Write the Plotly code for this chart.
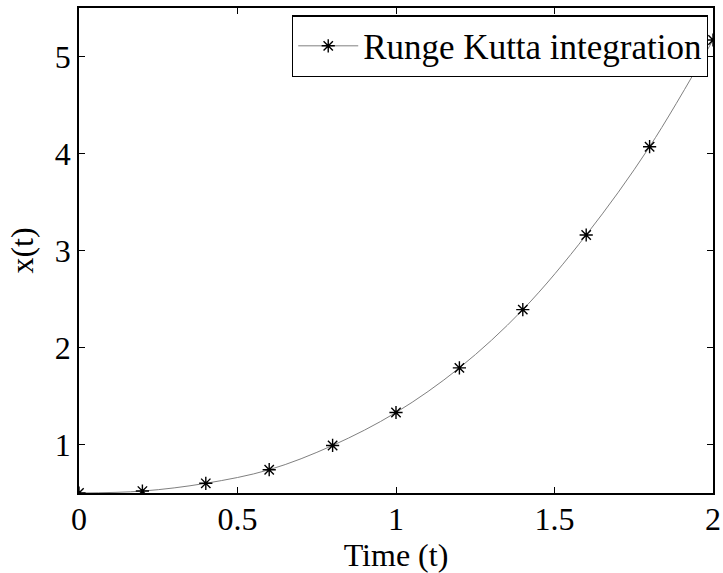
import plotly.graph_objects as go

t_values = [0.0, 0.2, 0.4, 0.6, 0.8, 1.0, 1.2, 1.4, 1.6, 1.8, 2.0]
x_values = [0.50, 0.52, 0.60, 0.74, 0.99, 1.33, 1.79, 2.39, 3.16, 4.07, 5.17]
x_ticks = [0, 0.5, 1, 1.5, 2]
x_tick_labels = ["0", "0.5", "1", "1.5", "2"]
y_ticks = [1, 2, 3, 4, 5]
y_tick_labels = ["1", "2", "3", "4", "5"]
series_name = "Runge Kutta integration"

FONT = "Liberation Serif, Times New Roman, serif"

fig = go.Figure()
fig.add_trace(go.Scatter(
    x=t_values, y=x_values, name=series_name,
    mode="lines+markers",
    line=dict(color="#808080", width=1, shape="spline"),
    marker=dict(symbol="asterisk-open", size=11, color="black",
                line=dict(color="black", width=1.4)),
    showlegend=True,
))

axis_common = dict(
    showgrid=False, zeroline=False, showline=True, mirror="ticks",
    linecolor="black", linewidth=1.5, ticks="inside", ticklen=6,
    tickcolor="black", tickwidth=1,
    tickfont=dict(family=FONT, size=32, color="black"),
)

fig.update_layout(
    width=723, height=573, autosize=False,
    margin=dict(l=79, r=10, t=8, b=80, autoexpand=False),
    paper_bgcolor="white", plot_bgcolor="white",
    font=dict(family=FONT, color="black"),
    xaxis=dict(range=[0, 2], tickvals=x_ticks, ticktext=x_tick_labels,
               ticklabelstandoff=-3,
               title=dict(text="Time (t)", font=dict(family=FONT, size=32), standoff=0),
               **axis_common),
    yaxis=dict(range=[0.5, 5.5], tickvals=y_ticks, ticktext=y_tick_labels,
               title=dict(text="x(t)", font=dict(family=FONT, size=32), standoff=12),
               **axis_common),
    legend=dict(x=0.992, y=0.985, xanchor="right", yanchor="top",
                bgcolor="white", bordercolor="black", borderwidth=1.3,
                font=dict(family=FONT, size=35, color="black"),
                itemwidth=60, tracegroupgap=0),
)

fig.write_html("out.html", config={"displayModeBar": False},
               post_script="document.body.style.margin='0';document.body.style.overflow='hidden';")
